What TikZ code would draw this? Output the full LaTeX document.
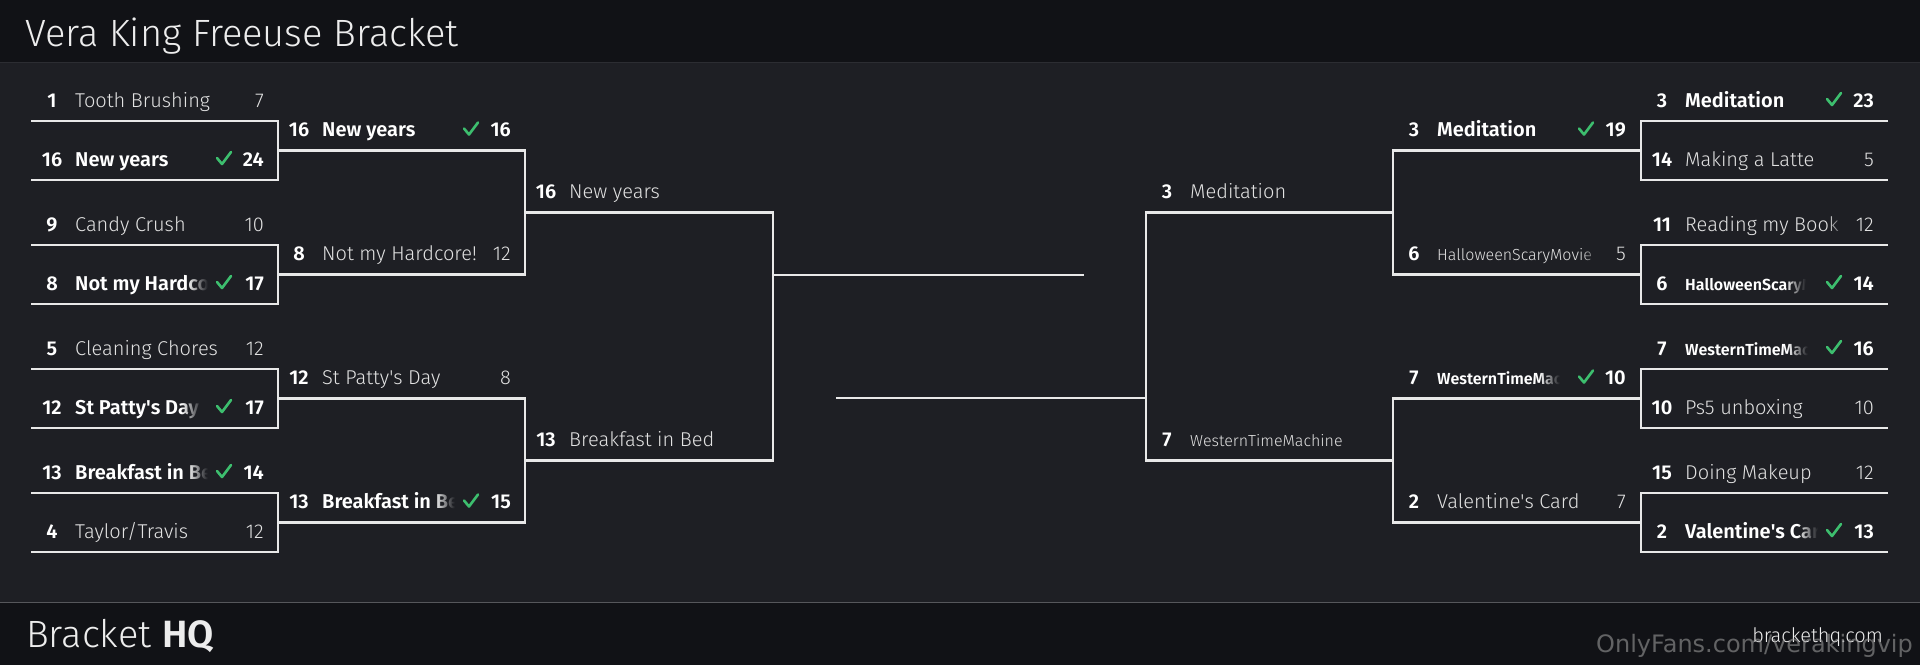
\documentclass[tikz,border=0pt]{standalone}
\usepackage{fontspec}
\setmainfont{Fira Sans Light}[BoldFont={Fira Sans SemiBold}]
\newfontfamily\wmfont{DejaVu Sans}
\usetikzlibrary{fadings}
\definecolor{bgc}{HTML}{1E1F24}
\definecolor{hdr}{HTML}{111216}
\definecolor{sepc}{HTML}{2C2D32}
\definecolor{linec}{HTML}{E8E8E8}
\definecolor{txtl}{HTML}{E2E2E2}
\definecolor{chkg}{HTML}{3DBE6E}
\tikzfading[name=fadein, left color=transparent!100, right color=transparent!0]
\newcommand\smallnm{\fontsize{16}{19}\selectfont}
\newcommand\ap{\textquotesingle}
\tikzset{
  br/.style={draw=linec, line width=2.4pt, line join=miter},
  seedst/.style={anchor=base, inner sep=0pt, font=\fontsize{20}{24}\selectfont\bfseries, text=white},
  namel/.style={anchor=base west, inner sep=0pt, font=\fontsize{20}{24}\selectfont, text=txtl},
  namew/.style={anchor=base west, inner sep=0pt, font=\fontsize{20}{24}\selectfont\bfseries, text=white},
  scorel/.style={anchor=base east, inner sep=0pt, font=\fontsize{20}{24}\selectfont, text=txtl},
  scorew/.style={anchor=base east, inner sep=0pt, font=\fontsize{20}{24}\selectfont\bfseries, text=white},
  chk/.style={draw=chkg, line width=2.6pt, line cap=round, line join=round},
}
% #1 id, #2 x0, #3 line y, #4 seed, #5 name, #6 score, #7 w/l, #8 clip end offset (0 = none)
\newcommand\teamrow[8]{%
  \node[seedst] (#1s) at ({#2+21},{#3-14}) {#4};
  \ifnum#8>0
    \begin{scope}
      \clip ({#2+40},{#3-45}) rectangle ({#2+#8},{#3-3});
      \node[name#7] (#1n) at ({#2+44},{#3-14}) {#5};
    \end{scope}
    \fill[bgc, path fading=fadein] ({#2+#8-20},{#3-45}) rectangle ({#2+#8+0.5},{#3-3});
  \else
    \node[name#7] (#1n) at ({#2+44},{#3-14}) {#5};
  \fi
  \if#7w
    \draw[chk] ({#2+186},{#3-22}) -- ({#2+191},{#3-16}) -- ({#2+200},{#3-28});
  \fi
  \node[score#7] (#1c) at ({#2+233},{#3-14}) {#6};
}
\begin{document}
\begin{tikzpicture}[x=1pt,y=-1pt]
\useasboundingbox (0,0) rectangle (1920,665);
% backgrounds
\fill[bgc] (0,0) rectangle (1920,665);
\fill[hdr] (0,0) rectangle (1920,62);
\fill[hdr] (0,602) rectangle (1920,665);
\draw[sepc, line width=1pt] (0,62) -- (1920,62);
\draw[sepc!80!white, line width=1pt] (0,602) -- (1920,602);
% header / footer texts
\node[anchor=base west, inner sep=0pt, font=\fontsize{38}{46}\selectfont, text=white!93!black] (title) at (25,46) {Vera King Freeuse Bracket};
\node[anchor=base west, inner sep=0pt, font=\fontsize{38}{46}\selectfont, text=white!93!black] (logo) at (26,647) {Bracket \textbf{HQ}};
\node[anchor=base east, inner sep=0pt, font=\fontsize{20}{24}\selectfont, text=white!93!black] (site) at (1883,642) {brackethq.com};
\node[anchor=base east, inner sep=0pt, font=\wmfont\fontsize{24}{28}\selectfont, text=gray!80!white, opacity=0.6] (wm) at (1913,652) {OnlyFans.com/verakingvip};
% ---- left bracket lines
\draw[br] (31,121) -- (278,121) -- (278,180) -- (31,180);
\draw[br] (31,245) -- (278,245) -- (278,304) -- (31,304);
\draw[br] (31,369) -- (278,369) -- (278,428) -- (31,428);
\draw[br] (31,493) -- (278,493) -- (278,552) -- (31,552);
\draw[br] (278,150.5) -- (525,150.5) -- (525,274.5) -- (278,274.5);
\draw[br] (278,398.5) -- (525,398.5) -- (525,522.5) -- (278,522.5);
\draw[br] (525,212.5) -- (773,212.5) -- (773,460.5) -- (525,460.5);
\draw[br] (773,275) -- (1084,275);
% ---- right bracket lines
\draw[br] (1888,121) -- (1641,121) -- (1641,180) -- (1888,180);
\draw[br] (1888,245) -- (1641,245) -- (1641,304) -- (1888,304);
\draw[br] (1888,369) -- (1641,369) -- (1641,428) -- (1888,428);
\draw[br] (1888,493) -- (1641,493) -- (1641,552) -- (1888,552);
\draw[br] (1641,150.5) -- (1393,150.5) -- (1393,274.5) -- (1641,274.5);
\draw[br] (1641,398.5) -- (1393,398.5) -- (1393,522.5) -- (1641,522.5);
\draw[br] (1393,212.5) -- (1146,212.5) -- (1146,460.5) -- (1393,460.5);
\draw[br] (836,398) -- (1146,398);
% ---- left round 1
\teamrow{a1}{31}{121}{1}{Tooth Brushing}{7}{l}{0}
\teamrow{a2}{31}{180}{16}{New years}{24}{w}{0}
\teamrow{a3}{31}{245}{9}{Candy Crush}{10}{l}{0}
\teamrow{a4}{31}{304}{8}{Not my Hardcore!}{17}{w}{176}
\teamrow{a5}{31}{369}{5}{Cleaning Chores}{12}{l}{0}
\teamrow{a6}{31}{428}{12}{St Patty\ap s Day}{17}{w}{170}
\teamrow{a7}{31}{493}{13}{Breakfast in Bed}{14}{w}{176}
\teamrow{a8}{31}{552}{4}{Taylor/Travis}{12}{l}{0}
% ---- left round 2
\teamrow{b1}{278}{150.5}{16}{New years}{16}{w}{0}
\teamrow{b2}{278}{274.5}{8}{Not my Hardcore!}{12}{l}{0}
\teamrow{b3}{278}{398.5}{12}{St Patty\ap s Day}{8}{l}{0}
\teamrow{b4}{278}{522.5}{13}{Breakfast in Bed}{15}{w}{176}
% ---- left round 3
\teamrow{c1}{525}{212.5}{16}{New years}{}{l}{0}
\teamrow{c2}{525}{460.5}{13}{Breakfast in Bed}{}{l}{0}
% ---- right round 3
\teamrow{d1}{1146}{212.5}{3}{Meditation}{}{l}{0}
\teamrow{d2}{1146}{460.5}{7}{\smallnm WesternTimeMachine}{}{l}{0}
% ---- right round 2
\teamrow{e1}{1393}{150.5}{3}{Meditation}{19}{w}{0}
\teamrow{e2}{1393}{274.5}{6}{\smallnm HalloweenScaryMovie}{5}{l}{208}
\teamrow{e3}{1393}{398.5}{7}{\smallnm WesternTimeMachine}{10}{w}{166}
\teamrow{e4}{1393}{522.5}{2}{Valentine\ap s Card}{7}{l}{0}
% ---- right round 1
\teamrow{f1}{1641}{121}{3}{Meditation}{23}{w}{0}
\teamrow{f2}{1641}{180}{14}{Making a Latte}{5}{l}{0}
\teamrow{f3}{1641}{245}{11}{Reading my Book}{12}{l}{206}
\teamrow{f4}{1641}{304}{6}{\smallnm HalloweenScaryMovie}{14}{w}{164}
\teamrow{f5}{1641}{369}{7}{\smallnm WesternTimeMachine}{16}{w}{166}
\teamrow{f6}{1641}{428}{10}{Ps5 unboxing}{10}{l}{0}
\teamrow{f7}{1641}{493}{15}{Doing Makeup}{12}{l}{0}
\teamrow{f8}{1641}{552}{2}{Valentine\ap s Card}{13}{w}{176}
\end{tikzpicture}
\end{document}
